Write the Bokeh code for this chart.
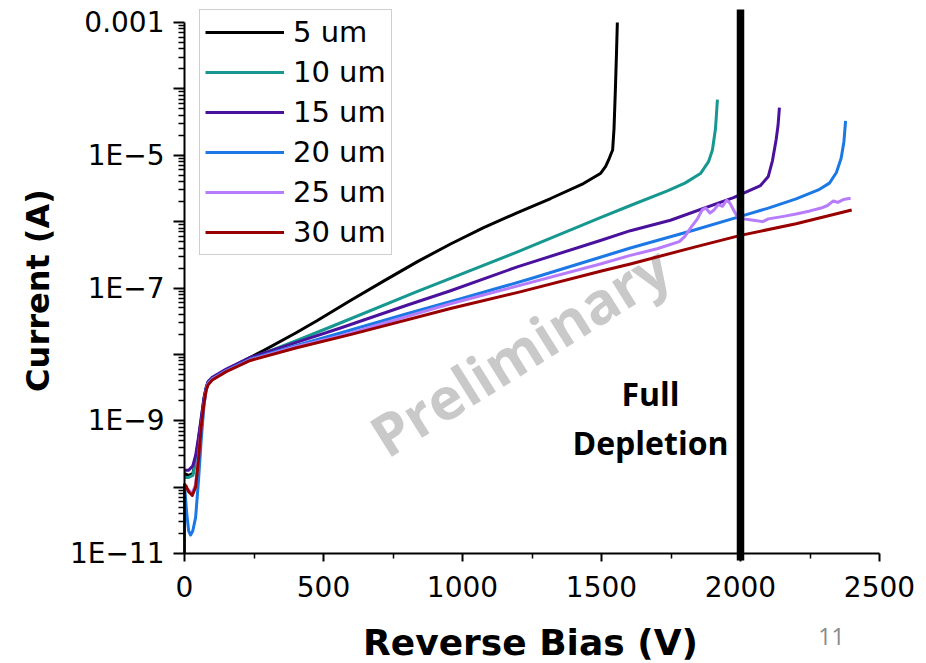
from bokeh.plotting import figure
from bokeh.models import Range1d, FixedTicker, CustomJSTickFormatter, Label
from bokeh.embed import file_html
from bokeh.resources import INLINE

# ---------------- data ----------------
v_5 = [0, 15, 30, 40, 50, 60, 70, 78, 85, 100, 150, 237, 284, 400, 478, 597, 716, 838, 957, 1076, 1198, 1317, 1435, 1496, 1515, 1528, 1540, 1545, 1550, 1554, 1557]
i_5 = [1.6e-10, 1.5e-10, 1.6e-10, 2.5e-10, 5e-10, 1.0e-9, 2.1e-9, 3.1e-9, 3.8e-9, 4.4e-9, 5.8e-9, 9e-9, 1.14e-8, 2.1e-8, 3.24e-8, 6.5e-8, 1.27e-7, 2.5e-7, 4.6e-7, 8.1e-7, 1.37e-6, 2.23e-6, 3.75e-6, 5.3e-6, 6.8e-6, 9e-6, 1.2e-5, 2.5e-5, 1e-4, 3.5e-4, 1e-3]

v_10 = [0, 15, 30, 40, 50, 60, 70, 78, 85, 100, 150, 237, 300, 400, 536, 838, 957, 1198, 1250, 1496, 1604, 1737, 1800, 1856, 1885, 1899, 1910, 1917]
i_10 = [1.4e-10, 1.4e-10, 1.5e-10, 2.5e-10, 5e-10, 1.0e-9, 2.1e-9, 3.1e-9, 3.8e-9, 4.4e-9, 5.8e-9, 8.8e-9, 1.1e-8, 1.6e-8, 2.7e-8, 8.9e-8, 1.4e-7, 3.5e-7, 4.3e-7, 1.15e-6, 1.75e-6, 2.9e-6, 3.8e-6, 5.3e-6, 8e-6, 1.2e-5, 2.5e-5, 6.9e-5]

v_15 = [0, 15, 30, 40, 50, 60, 70, 78, 85, 100, 150, 237, 400, 561, 800, 957, 1200, 1496, 1604, 1748, 1975, 2072, 2100, 2115, 2128, 2135, 2140]
i_15 = [1.8e-10, 1.8e-10, 2.1e-10, 3e-10, 5.5e-10, 1.1e-9, 2.2e-9, 3.2e-9, 3.9e-9, 4.5e-9, 6.0e-9, 9.0e-9, 1.5e-8, 2.5e-8, 5.5e-8, 9.1e-8, 2.1e-7, 5.2e-7, 7.3e-7, 1.05e-6, 2.3e-6, 3.5e-6, 4.8e-6, 8.3e-6, 1.7e-5, 2.8e-5, 5.2e-5]

v_20 = [0, 8, 15, 22, 30, 40, 50, 60, 70, 78, 85, 100, 150, 237, 400, 561, 800, 1000, 1250, 1496, 1604, 1831, 2000, 2100, 2200, 2280, 2320, 2345, 2362, 2372, 2378]
i_20 = [1.1e-10, 4e-11, 2.2e-11, 1.9e-11, 2.2e-11, 3.5e-11, 1.2e-10, 5e-10, 1.7e-9, 3.0e-9, 3.7e-9, 4.3e-9, 5.7e-9, 8.5e-9, 1.35e-8, 2.1e-8, 4.1e-8, 7.0e-8, 1.4e-7, 2.9e-7, 4.0e-7, 7.4e-7, 1.2e-6, 1.6e-6, 2.2e-6, 3.0e-6, 3.8e-6, 5.5e-6, 9e-6, 1.6e-5, 3.3e-5]

v_25 = [0, 15, 28, 40, 50, 60, 70, 78, 85, 100, 150, 237, 400, 561, 957, 1496, 1604, 1700, 1780, 1800, 1820, 1845, 1862, 1875, 1890, 1905, 1920, 1935, 1950, 1962, 1975, 1990, 2010, 2047, 2080, 2100, 2155, 2200, 2250, 2290, 2313, 2334, 2350, 2370, 2396]
i_25 = [1.0e-10, 9e-11, 8e-11, 1.1e-10, 2.8e-10, 8e-10, 1.8e-9, 2.9e-9, 3.6e-9, 4.2e-9, 5.6e-9, 8.3e-9, 1.3e-8, 1.9e-8, 5.8e-8, 2.3e-7, 3.1e-7, 3.9e-7, 5.0e-7, 6.0e-7, 8.0e-7, 1.1e-6, 1.5e-6, 1.6e-6, 1.35e-6, 1.5e-6, 1.8e-6, 1.7e-6, 2.1e-6, 1.9e-6, 1.5e-6, 1.15e-6, 1.1e-6, 1.05e-6, 1.0e-6, 1.1e-6, 1.2e-6, 1.3e-6, 1.45e-6, 1.6e-6, 1.75e-6, 2.05e-6, 1.95e-6, 2.15e-6, 2.25e-6]

v_30 = [0, 0, 5, 15, 28, 40, 50, 60, 70, 78, 85, 100, 150, 237, 400, 600, 957, 1200, 1500, 1604, 1831, 2000, 2200, 2400]
i_30 = [1e-11, 1.1e-10, 1.05e-10, 8.5e-11, 7.5e-11, 1.0e-10, 2.5e-10, 8e-10, 1.8e-9, 2.9e-9, 3.5e-9, 4.1e-9, 5.5e-9, 8.1e-9, 1.25e-8, 2.0e-8, 4.9e-8, 8.6e-8, 1.8e-7, 2.3e-7, 4.1e-7, 6.2e-7, 9.3e-7, 1.5e-6]

series_names = ["5 um", "10 um", "15 um", "20 um", "25 um", "30 um"]
series_v = [v_5, v_10, v_15, v_20, v_25, v_30]
series_i = [i_5, i_10, i_15, i_20, i_25, i_30]
series_colors = ["#000000", "#16978f", "#4a129c", "#1c78e4", "#b77cfb", "#980000"]

x_ticks = [0, 500, 1000, 1500, 2000, 2500]
x_minor = [250, 750, 1250, 1750, 2250]
y_tick_exps = [-11, -10, -9, -8, -7, -6, -5, -4, -3]
y_tick_labels = ["1E\u221211", "", "1E\u22129", "", "1E\u22127", "", "1E\u22125", "", "0.001"]

full_depletion_v = 2000

# ---------------- layout helpers (pixel -> data) ----------------
W, H = 920, 662
X0_PX, X_END_PX = 184, 879          # pixels of 0 V and 2500 V
Y_TOP_PX, Y_BOT_PX = 22, 553        # pixels of 1e-3 A and 1e-11 A
KX = (x_ticks[-1] - x_ticks[0]) / (X_END_PX - X0_PX)
DEC = (Y_BOT_PX - Y_TOP_PX) / 8.0


def dx(px):
    return (px - X0_PX) * KX


def dy(py):
    return 10 ** (-3 - (py - Y_TOP_PX) / DEC)


p = figure(width=W, height=H, output_backend="svg", toolbar_location=None,
           y_axis_type="log", title=None,
           x_range=Range1d(dx(0), dx(W)), y_range=Range1d(dy(H), dy(0)),
           min_border_left=0, min_border_right=0, min_border_top=0, min_border_bottom=0)
p.outline_line_color = None
p.grid.visible = False
p.background_fill_color = "white"
p.border_fill_color = "white"

y_major = [10.0 ** e for e in y_tick_exps]
y_minor = [k * 10.0 ** e for e in y_tick_exps[:-1] for k in range(2, 10)]
p.yaxis.ticker = FixedTicker(ticks=y_major, minor_ticks=y_minor)
p.yaxis.formatter = CustomJSTickFormatter(args=dict(exps=y_tick_exps, labs=y_tick_labels), code="""
const e = Math.round(Math.log10(tick));
const k = exps.indexOf(e);
return k >= 0 ? labs[k] : "";
""")
p.yaxis.bounds = (y_major[0], y_major[-1])
p.yaxis.fixed_location = x_ticks[0]

p.xaxis.ticker = FixedTicker(ticks=x_ticks, minor_ticks=x_minor)
p.xaxis.bounds = (x_ticks[0], x_ticks[-1])
p.xaxis.fixed_location = y_major[0]

for ax in (p.xaxis, p.yaxis):
    ax.axis_line_width = 2
    ax.axis_line_color = "black"
    ax.major_tick_line_width = 2
    ax.major_tick_line_color = "black"
    ax.minor_tick_line_width = 1.5
    ax.minor_tick_line_color = "black"
    ax.major_tick_in = 0
    ax.minor_tick_in = 0
    ax.major_label_text_font = "DejaVu Sans"
    ax.major_label_text_font_size = "28px"
    ax.major_label_text_color = "black"
    ax.axis_label = None

p.yaxis.major_tick_out = 11
p.yaxis.minor_tick_out = 6
p.yaxis.major_label_standoff = 9
p.xaxis.major_tick_out = 8
p.xaxis.minor_tick_out = 5
p.xaxis.major_label_standoff = 14

# watermark (below the curves)
p.add_layout(Label(x=1205, y=10 ** -7.94, text="Preliminary", angle=32, angle_units="deg",
                   text_align="center", text_baseline="middle", text_font="Open Sans",
                   text_font_style="bold", text_font_size="58px", text_color="#c9c9c9",
                   level="underlay"))

for name, vv, ii, col in zip(series_names, series_v, series_i, series_colors):
    p.line(vv, ii, line_color=col, line_width=3, line_join="round", legend_label=name)

# full-depletion marker line
p.segment(x0=[full_depletion_v], y0=[dy(560)], x1=[full_depletion_v], y1=[dy(9)],
          line_color="black", line_width=7.5)

p.add_layout(Label(x=dx(650), y=dy(393), text="Full", text_align="center", text_baseline="alphabetic",
                   text_font="Open Sans", text_font_style="bold", text_font_size="32px", text_color="black"))
p.add_layout(Label(x=dx(650), y=dy(442), text="Depletion", text_align="center", text_baseline="alphabetic",
                   text_font="Open Sans", text_font_style="bold", text_font_size="32px", text_color="black"))

# axis titles and slide page number
p.add_layout(Label(x=dx(530), y=dy(642), text="Reverse Bias (V)", text_align="center",
                   text_baseline="alphabetic", text_font="DejaVu Sans", text_font_style="bold",
                   text_font_size="36px", text_color="black"))
p.add_layout(Label(x=dx(37), y=dy(290), text="Current (A)", angle=90, angle_units="deg",
                   text_align="center", text_baseline="alphabetic", text_font="DejaVu Sans",
                   text_font_style="bold", text_font_size="32px", text_color="black"))
p.add_layout(Label(x=dx(831), y=dy(636), text="11", text_align="center", text_baseline="middle",
                   text_font="Open Sans", text_font_size="23px", text_color="#8a8a8a"))

leg = p.legend[0]
leg.location = (199, H - 255)
leg.glyph_width = 79
leg.glyph_height = 30
leg.label_height = 30
leg.label_standoff = 9
leg.padding = 5
leg.spacing = 6
leg.margin = 0
leg.border_line_color = "#a0a0a0"
leg.border_line_width = 1.5
leg.background_fill_color = "white"
leg.background_fill_alpha = 1
leg.label_text_font = "DejaVu Sans"
leg.label_text_font_size = "29px"
leg.label_text_color = "black"

open("out.html", "w").write(file_html(p, INLINE))
